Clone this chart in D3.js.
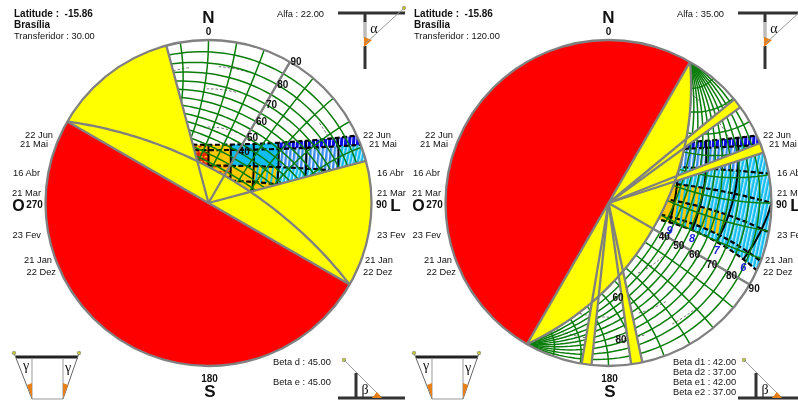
<!DOCTYPE html>
<html><head><meta charset="utf-8">
<script src="https://d3js.org/d3.v7.min.js"></script>
<style>html,body{margin:0;padding:0;background:#fff;overflow:hidden}
svg{display:block;font-family:"Liberation Sans",Arial,sans-serif;filter:blur(.35px)}</style>
</head><body><svg id="c" width="798" height="403"></svg>
<script>
const latitude = -15.86;
const city = "Brasília";
const transferidor = [30, 120];
const alfa = [22, 35];
const betaTexts = [["Beta d : 45.00","Beta e : 45.00"],["Beta d1 : 42.00","Beta d2 : 37.00","Beta e1 : 42.00","Beta e2 : 37.00"]];
const fins = [[[300,345],[75,120]], [[50.5,54],[68.4,72],[168,172],[186,189.5]]];
const finRays = [[345,75],[50.5,54,68.4,72,168,172,186,189.5]];
const dateNames = ["22 Jun","21 Mai","16 Abr","21 Mar","23 Fev","21 Jan","22 Dez"];
const declinations = [23.45,20.1,10,0,-10,-20.1,-23.45];
const hourEdges = [5,6,7,8,9,10,11,12,13];
const hourLines = [6,7,8,9,10,11,12,13,14,15,16,17,18];
const heatClass = [
 [1,1,1,1,3,3,4,5],
 [2,2,8,8,3,3,4,6],
 [2,2,2,2,7,4,5,6],
 [2,2,2,7,4,4,5,6],
 [2,2,7,7,4,4,5,6],
 [2,2,2,7,4,4,4,5]];
const gridAngles = [5,10,15,20,25,30,35,40,45,50,55,60,65,70,75,80,85];
const gammaAngles = [10,20,30,40,50,60,70,80,90,100,110,120,130,140,150,160,170];
const altCircles = [10,20,40];
const axisTicks = [40,50,60,70,80,90];
const hourTicks = [6,7,8,9];

const svg = d3.select("#c");
const R = 163, cy = 203, cxLocal = 208.5;
const rad = Math.PI/180;
const rScale = d3.scaleLinear().domain([0,1]).range([0,R]);
const line = d3.line();
const proj = v => { const k = 1/(1+v[2]); return [rScale(v[0]*k), -rScale(v[1]*k)]; };
const horiz = az => [Math.sin(az*rad), Math.cos(az*rad), 0];
const add = (a,b,ka,kb) => [a[0]*ka+b[0]*kb,a[1]*ka+b[1]*kb,a[2]*ka+b[2]*kb];
const sun = (hour, dec) => {
  const H=(hour-12)*15*rad, d=dec*rad, f=latitude*rad;
  return [-Math.cos(d)*Math.sin(H),
          Math.cos(f)*Math.sin(d)-Math.sin(f)*Math.cos(d)*Math.cos(H),
          Math.sin(f)*Math.sin(d)+Math.cos(f)*Math.cos(d)*Math.cos(H)];
};
const ZEN=[0,0,1];
const steps = (a,b,n) => d3.range(n+1).map(i=>a+(b-a)*i/n);
const greatArc = (T,a) => {
  const P=horiz(T-90), A=horiz(T), D=add(ZEN,A,Math.cos(a*rad),Math.sin(a*rad));
  return steps(0,180,90).map(s=>proj(add(P,D,Math.cos(s*rad),Math.sin(s*rad))));
};
const smallCircle = (T,th) => {
  const P=horiz(T-90), A=horiz(T);
  return steps(-90,90,60).map(t=>{
    const rim=add(ZEN,A,Math.cos(t*rad),Math.sin(t*rad));
    return proj(add(P,rim,Math.cos(th*rad),Math.sin(th*rad)));
  });
};

const defs = svg.append("defs");
defs.append("clipPath").attr("id","disc").append("circle").attr("r",R);
function stripe(id,bg,fg,w,h,rot,rect){
  const p=defs.append("pattern").attr("id",id).attr("patternUnits","userSpaceOnUse")
    .attr("width",w).attr("height",h).attr("patternTransform",`rotate(${rot})`);
  p.append("rect").attr("width",w).attr("height",h).attr("fill",bg);
  p.append("rect").attr("x",rect[0]).attr("y",rect[1]).attr("width",rect[2]).attr("height",rect[3]).attr("fill",fg);
}
stripe("pBlue","#0a0ae6","#dfefff",4,8,4,[2,0,1,8]);
stripe("pCyan","#12bdf2","#ffffff",3.6,8,12,[2,0,1,8]);
stripe("pOC","#ffc800","#12bdf2",5,8,8,[3,0,2,8]);
stripe("pOR","#ffc800","#e03000",5,5,0,[0,3,3,1.5]);
stripe("pRed","#e82800","#ffc000",5,5,0,[1,3,3,1.5]);
stripe("pLight","#3a8cf5","#ffffff",4,8,6,[1.5,0,1.5,8]);
const heatFill = {1:"url(#pBlue)",2:"url(#pCyan)",3:"#12bdf2",4:"#ffc800",5:"url(#pOR)",6:"url(#pRed)",7:"url(#pOC)",8:"url(#pLight)"};

const GRAY="#808080", GREEN="#0a7d0a";
const arcGen = d3.arc().innerRadius(0).outerRadius(R);
const sector = (a,b)=>arcGen({startAngle:a*rad,endAngle:b*rad});

transferidor.forEach((T,pi)=>{
  const off = pi*400;
  const g = svg.append("g").attr("transform",`translate(${off},0)`);
  const d = g.append("g").attr("transform",`translate(${cxLocal},${cy})`);
  const sky = d.append("g").attr("clip-path","url(#disc)");
  sky.append("circle").attr("r",R).attr("fill","#fff");
  sky.selectAll(".alt").data(altCircles).join("circle")
    .attr("r",a=>rScale(Math.tan((90-a)/2*rad))).attr("fill","none")
    .attr("stroke","#444").attr("stroke-width",.8)
    .attr("stroke-dasharray","2.5 2 2.5 2 2.5 2 2.5 2 2.5 2 2.5 2 2.5 30");
  heatClass.forEach((row,ri)=>row.forEach((c,ci)=>{
    const d0=declinations[ri], d1=declinations[ri+1], h0=hourEdges[ci], h1=hourEdges[ci+1];
    const pts=[...steps(h0,h1,8).map(h=>proj(sun(h,d0))),...steps(h1,h0,8).map(h=>proj(sun(h,d1)))];
    sky.append("path").attr("d",line(pts)+"Z").attr("fill",heatFill[c]).attr("stroke","none");
  }));
  declinations.forEach(dc=>{
    sky.append("path").attr("d",line(steps(4.5,19.5,90).map(h=>proj(sun(h,dc)))))
      .attr("fill","none").attr("stroke","#000").attr("stroke-width",2.2).attr("stroke-dasharray","5 2.5");
  });
  hourLines.forEach(h=>{
    sky.append("path").attr("d",line(steps(-23.45,23.45,20).map(dc=>proj(sun(h,dc)))))
      .attr("fill","none").attr("stroke","#000").attr("stroke-width",2);
  });
  gridAngles.forEach(a=>[T,T+180].forEach(t=>{
    sky.append("path").attr("d",line(greatArc(t,a))).attr("fill","none").attr("stroke",GREEN).attr("stroke-width",1.5);
  }));
  gammaAngles.forEach(th=>{
    sky.append("path").attr("d",line(smallCircle(T,th))).attr("fill","none").attr("stroke",GREEN).attr("stroke-width",1.5);
  });
  sky.append("path").attr("d",sector(T+90,T+270)).attr("fill","#ff0000");
  sky.append("path").attr("d",line(greatArc(T,alfa[pi]))+"Z").attr("fill","#ffff00");
  fins[pi].forEach(f=>sky.append("path").attr("d",sector(f[0],f[1])).attr("fill","#ffff00"));
  const grayLine = pts => d.append("path").attr("d",line(pts)).attr("fill","none").attr("stroke",GRAY).attr("stroke-width",2.3);
  grayLine(greatArc(T,alfa[pi]));
  grayLine([proj(horiz(T-90)),proj(horiz(T+90))]);
  grayLine([[0,0],proj(horiz(T))]);
  finRays[pi].forEach(az=>grayLine([[0,0],proj(horiz(az))]));
  d.append("circle").attr("r",R).attr("fill","none").attr("stroke",GRAY).attr("stroke-width",2.3);
  const dx = pi?4.5:6, dy = pi?4:0;
  axisTicks.forEach(a=>{
    const u=rScale(Math.tan(a/2*rad)), az=T*rad;
    d.append("text").text(a).attr("x",u*Math.sin(az)+dx).attr("y",-u*Math.cos(az)+dy+3.5)
      .attr("text-anchor","middle").attr("font-size",10).attr("font-weight","bold").attr("fill","#111");
  });
  if(pi===1){
    hourTicks.forEach(h=>{
      const p=proj(sun(h,-23.45));
      d.append("text").text(h).attr("x",p[0]).attr("y",p[1]+12).attr("text-anchor","middle")
        .attr("font-size",11).attr("font-weight","bold").attr("font-style","italic").attr("fill","#1a1ae0");
    });
    [[176,60],[176,80]].forEach(([az,a])=>{
      const u=rScale(Math.tan(a/2*rad));
      d.append("text").text(a).attr("x",u*Math.sin(az*rad)+3).attr("y",-u*Math.cos(az*rad)+4)
        .attr("text-anchor","middle").attr("font-size",10).attr("font-weight","bold").attr("fill","#111");
    });
  }
  const txt=(s,x,y,o={})=>g.append("text").text(s).attr("x",x).attr("y",y)
    .attr("font-size",o.fs||9.3).attr("font-weight",o.b?"bold":"normal").attr("text-anchor",o.a||"start")
    .attr("fill","#111").attr("font-family",o.ff||null);
  txt(`Latitude :\u00A0\u00A0${latitude.toFixed(2)}`,14,17,{b:1,fs:10});
  txt(city,14,28,{b:1,fs:10});
  txt(`Transferidor : ${T.toFixed(2)}`,14,39);
  txt("N",208.5,23,{b:1,fs:17,a:"middle"});
  txt("0",208.5,35,{b:1,fs:10,a:"middle"});
  txt(`Alfa : ${alfa[pi].toFixed(2)}`,277,17);
  txt("180",209.5,381.5,{b:1,fs:10,a:"middle"});
  txt("S",210,397,{b:1,fs:17,a:"middle"});
  txt("270",34.5,207.5,{b:1,fs:10,a:"middle"});
  txt("90",381.5,207.5,{b:1,fs:10,a:"middle"});
  txt("O",18.5,211,{b:1,fs:16,a:"middle"});
  txt("L",395.5,211,{b:1,fs:17,a:"middle"});
  const leftX=[53,48,40,41,41,52,56], rightX=[363,369,377,377,377,365,363], labY=[137.5,147,175.5,195.5,237.5,262.5,274.5];
  dateNames.forEach((n,i)=>{
    txt(n,leftX[i],labY[i],{a:"end"});
    txt(n,rightX[i],labY[i]);
  });
  const by = pi?[364.5,374.5,385,395]:[364.5,385];
  betaTexts[pi].forEach((s,i)=>txt(s,273,by[i]));
  const ic=(pts,c,w)=>g.append("path").attr("d",line(pts)).attr("fill","none").attr("stroke",c).attr("stroke-width",w);
  const tri=(pts,c)=>g.append("path").attr("d",line(pts)+"Z").attr("fill",c);
  ic([[365,21],[365,38]],"#bbb",3.5);
  ic([[338,13],[405,13]],"#333",3);
  ic([[365,13],[365,22]],"#333",3);
  ic([[365,46],[365,69]],"#333",3);
  tri([[364,37],[372,40],[364,47]],"#e8801a");
  ic([[366,43],[404,8]],"#999",1);
  txt("α",374,33,{fs:14,a:"middle",ff:"Liberation Serif"});
  ic([[16,357],[78,357]],"#222",3);
  ic([[14,353],[32,399]],"#666",1);
  ic([[79,353],[63,399]],"#666",1);
  ic([[32,358],[32,399],[63,399],[63,358]],"#999",1);
  tri([[32,398],[27,385],[32,383]],"#e8801a");
  tri([[63,398],[68,385],[63,383]],"#e8801a");
  g.selectAll(".dotg").data([[14,353],[79,353],[344,360],[404,8]]).join("circle")
    .attr("cx",p=>p[0]).attr("cy",p=>p[1]).attr("r",1.8).attr("fill","#c8c832").attr("stroke","#666").attr("stroke-width",.5);
  txt("γ",26,370,{fs:14,a:"middle",ff:"Liberation Serif"});
  txt("γ",68,372,{fs:14,a:"middle",ff:"Liberation Serif"});
  ic([[344,360],[383,399]],"#999",1);
  ic([[356,373],[356,398]],"#333",3);
  ic([[338,398],[405,398]],"#333",3);
  tri([[372,398],[377,392],[382,398]],"#e8801a");
  txt("β",365,394,{fs:14,a:"middle",ff:"Liberation Serif"});
});
</script></body></html>
